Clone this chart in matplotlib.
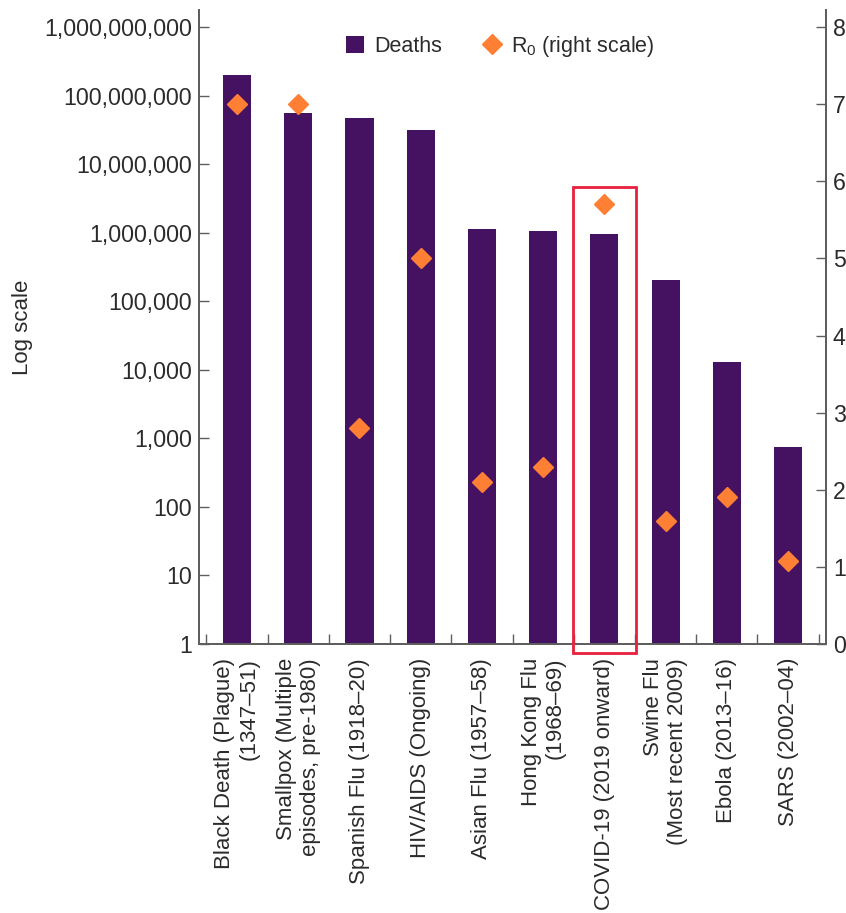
import numpy as np
import matplotlib
matplotlib.use("Agg")
import matplotlib.pyplot as plt
from matplotlib.patches import Rectangle
from matplotlib.ticker import FixedLocator, NullLocator, FuncFormatter

plt.rcParams['font.family'] = ['Liberation Sans', 'DejaVu Sans']
plt.rcParams['mathtext.fontset'] = 'custom'
plt.rcParams['mathtext.rm'] = 'Liberation Sans'

labels = ["Black Death (Plague)\n(1347\u201351)",
          "Smallpox (Multiple\nepisodes, pre-1980)",
          "Spanish Flu (1918\u201320)",
          "HIV/AIDS (Ongoing)",
          "Asian Flu (1957\u201358)",
          "Hong Kong Flu\n(1968\u201369)",
          "COVID-19 (2019 onward)",
          "Swine Flu\n(Most recent 2009)",
          "Ebola (2013\u201316)",
          "SARS (2002\u201304)"]
deaths = [200e6, 56e6, 47e6, 31e6, 1.13e6, 1.05e6, 0.95e6, 204e3, 13e3, 745]
r0 = [7.0, 7.0, 2.8, 5.0, 2.1, 2.3, 5.7, 1.6, 1.9, 1.08]
highlight = "COVID-19 (2019 onward)"

purple = '#451262'
orange = '#FF7F35'
txt = '#2b2b2b'
axc = '#5e5e5e'

fig = plt.figure(figsize=(8.46, 9.13), dpi=100)
ax = fig.add_axes([0.2352, 0.2946, 0.9764 - 0.2352, 0.989 - 0.2946])
ax2 = ax.twinx()

x = np.arange(len(labels))
bars = ax.bar(x, deaths, width=0.46, color=purple, label='Deaths', zorder=2)
ax.set_yscale('log')
ax.set_ylim(1, 10 ** 9.247)
ax.set_xlim(-0.62, len(labels) - 1 + 0.62)

ax.yaxis.set_major_locator(FixedLocator([10 ** k for k in range(10)]))
ax.yaxis.set_minor_locator(NullLocator())
ax.yaxis.set_major_formatter(FuncFormatter(lambda v, p: f"{int(round(v)):,}"))

ax.set_xticks(x)
ax.set_xticklabels(labels, rotation=90, ha='center', va='top', ma='right')
ax.set_xticks(np.arange(len(labels) + 1) - 0.5, minor=True)
ax.tick_params(axis='x', which='major', length=0, pad=10, labelsize=16, labelcolor=txt)
ax.tick_params(axis='x', which='minor', direction='in', length=7, width=1, color=axc)
ax.tick_params(axis='y', direction='in', length=7, width=1, color=axc, pad=5,
               labelsize=16.7, labelcolor=txt)
ax.set_ylabel('Log scale', fontsize=16, color=txt, labelpad=8)

dots, = ax2.plot(x, r0, linestyle='none', marker='D', markersize=10, color=orange,
                 label='R$_{\\mathrm{0}}$ (right scale)', zorder=3)
ax2.set_ylim(0, 8.22)
ax2.set_yticks(range(0, 9))
ax2.tick_params(axis='y', direction='in', length=7, width=1, color=axc, pad=5,
                labelsize=16.7, labelcolor=txt)

for a in (ax, ax2):
    a.spines['top'].set_visible(False)
    for s in ('left', 'right', 'bottom'):
        a.spines[s].set_color(axc)
        a.spines[s].set_linewidth(1.3)

# red box around the COVID-19 category
i = labels.index(highlight)
ax2.add_patch(Rectangle((i - 0.51, -0.117), 1.02, 5.93 + 0.117, fill=False,
                        edgecolor='#E8203C', linewidth=2, clip_on=False, zorder=4))

ax2.legend([bars, dots], ['Deaths', 'R$_{\\mathrm{0}}$ (right scale)'],
           loc='upper center', bbox_to_anchor=(0.481, 0.993), ncol=2, frameon=False,
           fontsize=15.5, handlelength=0.8, handleheight=0.8, handletextpad=0.5,
           columnspacing=1.9, numpoints=1, labelcolor=txt)

fig.savefig('out.png', dpi=100)
